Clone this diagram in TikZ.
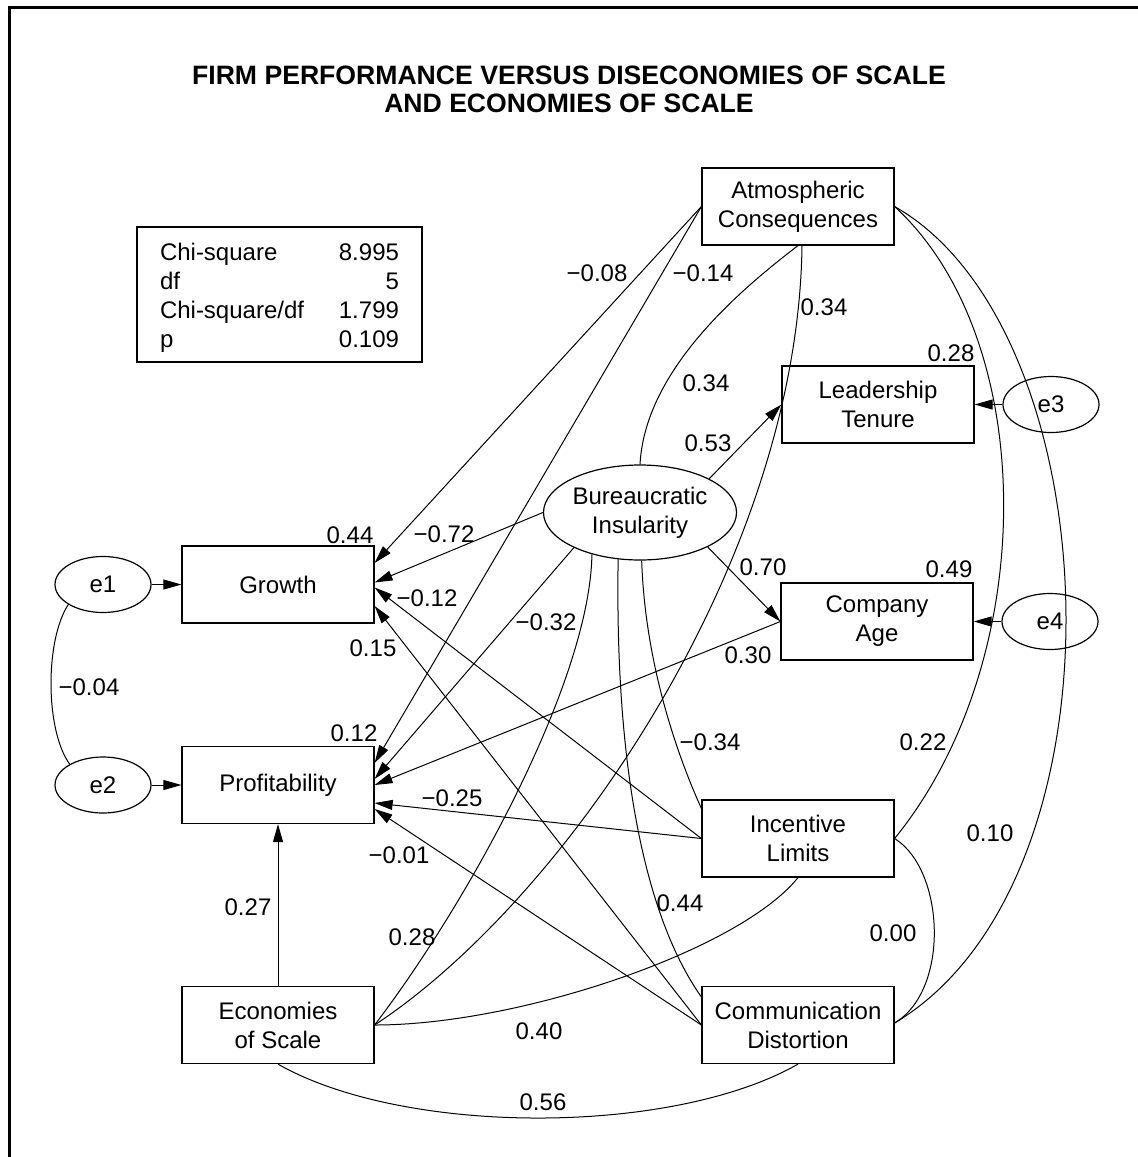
\documentclass[tikz,border=0pt]{standalone}
\usepackage{fontspec}
\setmainfont{Liberation Sans}
\usepackage{tikz}
\usetikzlibrary{arrows.meta,shapes.geometric}

\begin{document}
\begin{tikzpicture}[x=0.5pt,y=-0.5pt,
    every node/.style={font=\fontsize{12}{14.5}\selectfont},
    obs/.style={draw,line width=0.6pt,minimum width=96pt,minimum height=38.5pt,align=center,inner sep=0pt},
    lat/.style={draw,ellipse,line width=0.6pt,inner sep=0pt,align=center},
    err/.style={lat,minimum width=48pt,minimum height=28pt},
    lbl/.style={inner sep=0pt},
    effect/.style={line width=0.5pt,-{Triangle[length=9pt,width=5pt]}},
    cov/.style={line width=0.5pt}]
    \useasboundingbox (0,0) rectangle (1138,1157);
    \draw[line width=1.65pt] (9.3,1157) -- (9.3,7.3) -- (1138,7.3);

    \node[font=\bfseries\fontsize{13.3}{14}\selectfont,align=center] (title) at (569,89.5)
        {FIRM PERFORMANCE VERSUS DISECONOMIES OF SCALE\\AND ECONOMIES OF SCALE};
    \node[draw,line width=0.6pt,minimum width=142.5pt,minimum height=67.5pt,inner sep=0pt] (fitbox) at (279.5,294.5)
        {\raisebox{-2pt}[\height][\depth]{\begin{tabular*}{119.5pt}{@{}l@{\extracolsep{\fill}}r@{}}
            Chi-square & 8.995\\ df & 5\\ Chi-square/df & 1.799\\ p & 0.109
        \end{tabular*}}};

    \node[obs] (atm) at (798,206.5) {Atmospheric\\Consequences};
    \node[obs] (lead) at (878,404.5) {Leadership\\Tenure};
    \node[obs] (age) at (877,621.5) {Company\\Age};
    \node[obs] (incent) at (798,838.5) {Incentive\\Limits};
    \node[obs] (comm) at (798,1025) {Communication\\Distortion};
    \node[obs] (econ) at (278,1025) {Economies\\of Scale};
    \node[obs] (growth) at (278,584.5) {Growth};
    \node[obs] (profit) at (278,785) {Profitability};
    \node[lat,minimum width=96.5pt,minimum height=47.5pt] (bureau) at (640,512.5) {Bureaucratic\\Insularity};
    \node[err] (e1) at (103,584.5) {e1};
    \node[err] (e2) at (103,785) {e2};
    \node[err] (e3) at (1051,404.5) {e3};
    \node[err] (e4) at (1050,621.5) {e4};

    \draw[effect] (e1) -- (growth);
    \draw[effect] (e2) -- (profit);
    \draw[effect] (e3) -- (lead);
    \draw[effect] (e4) -- (age);
    \draw[effect] (atm.west) -- ([yshift=10.75pt]growth.east);
    \draw[effect] (atm.west) -- ([yshift=11pt]profit.east);
    \draw[effect] (bureau.west) -- ([yshift=1pt]growth.east);
    \draw[effect] (bureau.208) -- ([yshift=3pt]profit.east);
    \draw[effect] (bureau.26) -- (lead.west);
    \draw[effect] (bureau.-27) -- (age.west);
    \draw[effect] (age.west) -- (profit.east);
    \draw[effect] (incent.west) -- ([yshift=-1.5pt]growth.east);
    \draw[effect] (incent.west) -- ([yshift=-9pt]profit.east);
    \draw[effect] (comm.west) -- ([yshift=-10.75pt]growth.east);
    \draw[effect] (comm.west) -- ([yshift=-12pt]profit.east);
    \draw[effect] (econ.north) -- (profit.south);

    \draw[cov] (atm.south) .. controls (740,290) and (645,370) .. (bureau.north);
    \draw[cov] ([xshift=2pt]atm.south) .. controls (798,560) and (565,900) .. (econ.east);
    \draw[cov] (atm.east) .. controls (1040,340) and (1040,660) .. (incent.east);
    \draw[cov] (atm.east) .. controls (1112,330) and (1134,880) .. ([yshift=1pt]comm.east);
    \draw[cov] (bureau.221) .. controls (590,680) and (470,900) .. (econ.east);
    \draw[cov] (bureau.245) .. controls (615,750) and (640,910) .. ([yshift=14pt]comm.west);
    \draw[cov] (bureau.272) .. controls (645,660) and (675,750) .. ([yshift=15pt]incent.west);
    \draw[cov] (incent.south) .. controls (740,950) and (520,1025) .. (econ.east);
    \draw[cov] (incent.east) .. controls (945,870) and (950,990) .. ([yshift=1pt]comm.east);
    \draw[cov] (econ.south) .. controls (404,1136) and (672,1136) .. (comm.south);
    \draw[cov] (e1.210) .. controls (45,640) and (45,730) .. (e2.148);

    \node[lbl] (wAG) at (597,273) {−0.08};
    \node[lbl] (wAP) at (703,273) {−0.14};
    \node[lbl] (cAE) at (824,307) {0.34};
    \node[lbl] (rLead) at (951,353) {0.28};
    \node[lbl] (cAB) at (706,383) {0.34};
    \node[lbl] (wBL) at (708,443) {0.53};
    \node[lbl] (rGrowth) at (350,535) {0.44};
    \node[lbl] (wBG) at (444,534) {−0.72};
    \node[lbl] (wBA) at (763,567) {0.70};
    \node[lbl] (rAge) at (949,569) {0.49};
    \node[lbl] (wIG) at (427,598) {−0.12};
    \node[lbl] (wBP) at (546,622) {−0.32};
    \node[lbl] (wCG) at (373,648) {0.15};
    \node[lbl] (wAgP) at (748,655) {0.30};
    \node[lbl] (cE12) at (89,687) {−0.04};
    \node[lbl] (rProfit) at (354,733) {0.12};
    \node[lbl] (cBI) at (710,742) {−0.34};
    \node[lbl] (cAI) at (923,742) {0.22};
    \node[lbl] (wIP) at (452,798) {−0.25};
    \node[lbl] (cAC) at (990,833) {0.10};
    \node[lbl] (wCP) at (399,855) {−0.01};
    \node[lbl] (cBC) at (680,903) {0.44};
    \node[lbl] (wEP) at (248,907) {0.27};
    \node[lbl] (cIC) at (893,933) {0.00};
    \node[lbl] (cBE) at (412,937) {0.28};
    \node[lbl] (cIE) at (539,1031) {0.40};
    \node[lbl] (cEC) at (543,1102) {0.56};
\end{tikzpicture}
\end{document}
